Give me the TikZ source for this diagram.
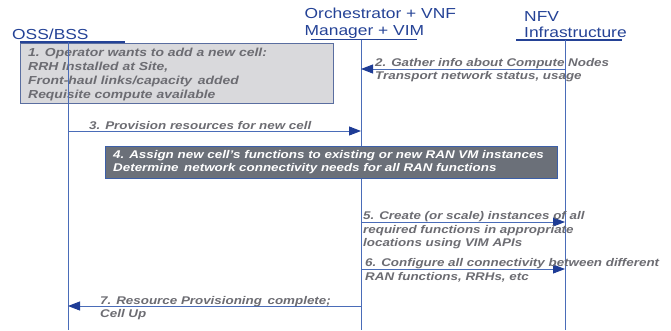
\documentclass[tikz,border=0pt]{standalone}
\usepackage{fontspec}
\setmainfont{Liberation Sans}[FakeStretch=1.2]
\usetikzlibrary{arrows.meta}
\definecolor{hdrblue}{RGB}{36,66,150}
\definecolor{lineblue}{RGB}{74,108,184}
\definecolor{tipblue}{RGB}{30,60,150}
\definecolor{msggray}{RGB}{108,108,114}
\definecolor{boxone}{RGB}{217,217,220}
\definecolor{boxoneedge}{RGB}{90,110,160}
\definecolor{boxfour}{RGB}{107,112,121}
\definecolor{boxfouredge}{RGB}{60,95,168}
\tikzset{
  hdr/.style={anchor=north west, inner sep=0pt, align=left, text=hdrblue,
    font=\fontsize{14.5}{16.7}\selectfont},
  msg/.style={anchor=north west, inner sep=0pt, align=left, text=msggray,
    font=\fontsize{11.15}{13.5}\selectfont\bfseries\itshape},
  msgbig/.style={msg, font=\fontsize{11.6}{13.7}\selectfont\bfseries\itshape},
  uline/.style={draw=hdrblue, line width=1.1pt},
  lifeline/.style={draw=lineblue, line width=0.9pt},
  msgarrow/.style={draw=lineblue, line width=0.9pt,
    -{Triangle[length=12pt,width=9pt,color=tipblue]}},
}
\begin{document}
\begin{tikzpicture}[x=1pt,y=-1pt]
\useasboundingbox (0,0) rectangle (671,330);
% headers
\node[hdr] (hoss) at (12,28.5) {OSS/BSS};
\node[hdr] (horch) at (304.5,7.7) {Orchestrator + VNF\\Manager + VIM};
\node[hdr] (hnfv) at (524,11.1) {NFV\\ Infrastructure};
% header underlines
\coordinate (ossul1) at (20,42); \coordinate (ossul2) at (125,42);
\coordinate (orchul1) at (311,39.5); \coordinate (orchul2) at (417,39.5);
\coordinate (nfvul1) at (516,40); \coordinate (nfvul2) at (622,40);
\draw[uline] (ossul1) -- (ossul2);
\draw[uline] (orchul1) -- (orchul2);
\draw[uline] (nfvul1) -- (nfvul2);
% box 1
\node[draw=boxoneedge, fill=boxone, line width=0.8pt, minimum width=313pt,
  minimum height=60pt, anchor=north west, inner sep=0pt] (boxa) at (20,43) {};
\node[msgbig] (ta) at (28,48.3) {1. Operator wants to add a new cell:\\RRH Installed at Site,\\Front-haul links/capacity\, added\\Requisite compute available};
% lifelines
\coordinate (osstop) at (68,42); \coordinate (ossbot) at (68,330);
\coordinate (orchtop) at (361,39.5); \coordinate (orchbot) at (361,330);
\coordinate (nfvtop) at (565,40); \coordinate (nfvbot) at (565,330);
\draw[lifeline] (osstop) -- (ossbot);
\draw[lifeline] (orchtop) -- (orchbot);
\draw[lifeline] (nfvtop) -- (nfvbot);
% box 4
\node[draw=boxfouredge, fill=boxfour, line width=0.8pt, minimum width=452.5pt,
  minimum height=32pt, anchor=north west, inner sep=0pt] (boxd) at (104.5,146) {};
\node[msg, text=white] (td) at (113,150.5) {4. Assign new cell's functions to existing or new RAN VM instances\\[-0.5pt]Determine\, network connectivity needs for all RAN functions};
% message endpoints
\coordinate (m2a) at (565,69); \coordinate (m2b) at (361,69);
\coordinate (m3a) at (68,131); \coordinate (m3b) at (361,131);
\coordinate (m5a) at (361,222); \coordinate (m5b) at (565,222);
\coordinate (m6a) at (361,269); \coordinate (m6b) at (565,269);
\coordinate (m7a) at (361,306); \coordinate (m7b) at (68,306);
\draw[msgarrow] (m2a) -- (m2b);
\draw[msgarrow] (m3a) -- (m3b);
\draw[msgarrow] (m5a) -- (m5b);
\draw[msgarrow] (m6a) -- (m6b);
\draw[msgarrow] (m7a) -- (m7b);
% message labels
\node[msg] (t2) at (375,58.7) {2. Gather info about Compute Nodes\\[-0.5pt]Transport network status, usage};
\node[msg] (t3) at (89,121.7) {3. Provision resources for new cell};
\node[msg] (t5) at (363,211.7) {5. Create (or scale) instances of all\\required functions in appropriate\\locations using VIM APIs};
\node[msg] (t6) at (365,258.7) {6. Configure all connectivity between different\\RAN functions, RRHs, etc};
\node[msg] (t7) at (100,296.4) {7. Resource Provisioning\, complete;\\[-0.8pt]Cell Up};
\end{tikzpicture}
\end{document}
